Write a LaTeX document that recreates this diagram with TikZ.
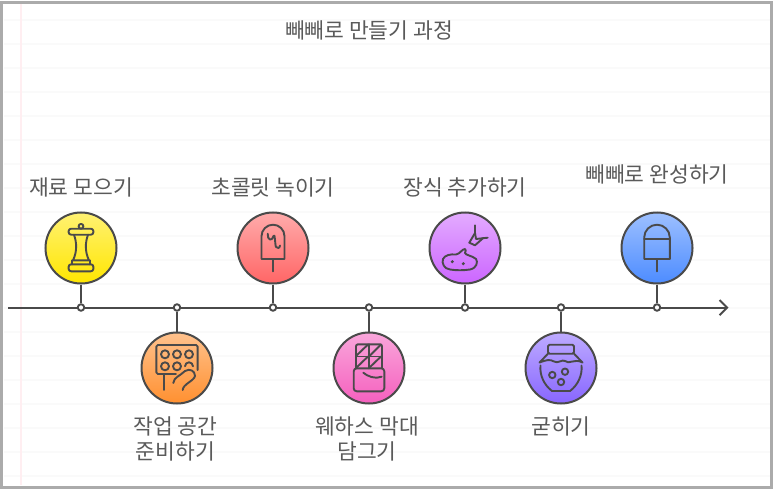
\documentclass[tikz,border=0pt]{standalone}
\usepackage{fontspec}
\setmainfont{Noto Sans CJK KR}
\usetikzlibrary{arrows.meta}
\definecolor{ink}{HTML}{4A4A4A}
\definecolor{txt}{HTML}{5A5A5A}
\definecolor{frame}{HTML}{ABABAB}
\definecolor{rule}{HTML}{FAFAFA}
\definecolor{margin}{HTML}{FFEEF1}
\tikzset{
  bub/.style={circle,draw=ink,line width=2pt,minimum size=71pt,inner sep=0pt,top color=#1!55!white,bottom color=#1},
  dotm/.style={circle,draw=ink,fill=white,line width=1.9pt,minimum size=6.5pt,inner sep=0pt},
  conn/.style={draw=ink,line width=2.2pt},
  lab/.style={text=txt,font=\fontsize{21.5}{25}\selectfont,align=center,inner sep=0pt},
  ico/.style={draw=ink,line width=1.9pt,line join=round,line cap=round},
}
\begin{document}
\begin{tikzpicture}[x=1pt,y=-1pt]
\useasboundingbox (0,0) rectangle (775,489);
\fill[white] (0,0) rectangle (775,489);
\foreach \y in {20,44,...,476} \draw[rule,line width=1.5pt] (4,\y) -- (770,\y);
\draw[margin,line width=1.3pt] (21,4) -- (21,485);
\draw[frame,line width=3pt] (1.5,2.2) rectangle (771.5,487);
\coordinate (as) at (8,307.6);
\coordinate (ae) at (728.5,307.6);
\draw[ink,line width=2pt,-{Straight Barb[length=7.5pt,width=15pt,line width=2pt]}] (as) -- (ae);
\foreach \n/\x/\y/\c in {1/81/248/FFE600,2/177/368/FF9030,3/273/248/FF6666,4/369/368/F55FBE,5/465/248/CC66FF,6/561/368/8866FF,7/657/248/4D8CFF}{
  \definecolor{cc}{HTML}{\c}
  \node[bub=cc] (c\n) at (\x,\y) {};
  \node[dotm] (d\n) at (\x,307.5) {};
  \draw[conn] (c\n) -- (d\n);
}
% labels
\node[lab] (t0) at (369,30) {빼빼로 만들기 과정};
\node[lab] (t1) at (81,187) {재료 모으기};
\node[lab] (t2) at (175.5,438.5) {작업 공간\\준비하기};
\node[lab] (t3) at (273,187) {초콜릿 녹이기};
\node[lab] (t4) at (367,438.5) {웨하스 막대\\담그기};
\node[lab] (t5) at (465,187) {장식 추가하기};
\node[lab] (t6) at (561,426) {굳히기};
\node[lab] (t7) at (657,174) {빼빼로 완성하기};
% icon 1: pepper mill
\begin{scope}[shift={(c1.center)}]
\draw[ico] (0,-21.7) circle (2.4);
\draw[ico,rounded corners=2.5pt] (-12.4,-19.3) rectangle (12.4,-13.3);
\draw[ico] (-7,-13.3) .. controls (-4,-5) and (-4,4) .. (-8,12.3) -- (8,12.3) .. controls (4,4) and (4,-5) .. (7,-13.3);
\draw[ico] (-8.8,12.3) -- (-8.8,16.3) (8.8,12.3) -- (8.8,16.3);
\draw[ico,rounded corners=2.5pt] (-12.4,16.3) rectangle (12.4,23.3);
\end{scope}
% icon 2: tray and hand
\begin{scope}[shift={(c2.center)}]
\draw[ico,rounded corners=1.5pt] (20.6,2) -- (20.6,-23) -- (-20.6,-23) -- (-20.6,6) -- (-1,6);
\foreach \a in {-12,0,12} \draw[ico] (\a,-13.7) circle (4);
\foreach \a in {-12,0} \draw[ico] (\a,-1.7) circle (4);
\draw[ico] (8,-1.7) arc (180:360:4);
\draw[ico] (-13.3,6) -- (-13.3,22);
\draw[ico] (-3.7,15) .. controls (-3,9) and (3,8) .. (8,3) .. controls (13,0) and (18,3) .. (18,8) .. controls (17,13) and (6,16) .. (5.7,22);
\end{scope}
% icon 3: popsicle with squiggle
\begin{scope}[shift={(c3.center)}]
\draw[ico] (-11.5,11) -- (-11.5,-11.8) arc (180:360:11.5) -- (11.5,11) -- cycle;
\draw[ico] (0,11) -- (0,23.3);
\draw[ico] (-5.3,-14.3) .. controls (-5.8,-8) and (-1,-6) .. (0.5,-12) .. controls (2,-16) and (2,-3) .. (3,-1) .. controls (4,0.5) and (7,0.5) .. (7,-2.5);
\end{scope}
% icon 4: chocolate bar
\begin{scope}[shift={(c4.center)}]
\draw[ico,rounded corners=2pt] (-13,0.3) -- (-13,-23.7) -- (13,-23.7) -- (13,0.3);
\draw[ico] (-13,-11.5) -- (13,-11.5) (0,-23.7) -- (0,0.3);
\draw[ico] (-13,-12) -- (-1,-23.5) (0,-11.5) -- (12,-23.5) (-13,0) -- (-1,-11.5) (0,0) -- (12,-11.5);
\draw[ico,rounded corners=3pt] (-15.3,0.3) rectangle (15.3,23.3);
\draw[ico] (-5.7,4.7) .. controls (-2,8) and (6,11.5) .. (12.7,8.7);
\end{scope}
% icon 5: icing
\begin{scope}[shift={(c5.center)}]
\draw[ico] (-15,21.5) .. controls (-21,21) and (-23.5,15) .. (-22,11) .. controls (-20,7) and (-15,6) .. (-9,6.5) .. controls (-5,6) and (-3,1) .. (0,1) .. controls (1,2) and (1,3) .. (0,5) .. controls (0,7) and (8,8) .. (11,11) .. controls (13,14) and (12,20) .. (5,21.5) .. controls (-2,22.5) and (-9,22.5) .. (-15,21.5) -- cycle;
\fill[ink] (-12.7,13.7) circle (1.7) (-1.7,15.7) circle (1.7);
\draw[ico] (10,-22.7) -- (10,-15) -- (4.3,-5.3) -- (10,-2.7) -- (18,-9.8) -- (22.7,-10.3);
\draw[ico] (10,-15) -- (11,-9) -- (18,-9.8);
\end{scope}
% icon 6: jar
\begin{scope}[shift={(c6.center)}]
\draw[ico,rounded corners=1.5pt] (-13,-14.3) -- (-13,-23.3) -- (13,-23.3) -- (13,-14.3) -- cycle;
\draw[ico] (-13,-14.3) -- (-21.5,-5.5) .. controls (-15,-8) and (-11,-9) .. (-7,-6.5) .. controls (-3,-4) and (1,-9) .. (4,-7) .. controls (8,-3) and (13,-10) .. (21.5,-5.5) -- (13,-14.3);
\draw[ico] (-20.5,-2.5) .. controls (-21.5,7) and (-17,17) .. (-9,23) -- (9,23) .. controls (17,17) and (21.5,7) .. (20.5,-2.5);
\draw[ico] (-8.7,7) circle (3.2) (4,3.7) circle (3.2) (0,14) circle (3.2);
\end{scope}
% icon 7: finished stick
\begin{scope}[shift={(c7.center)}]
\draw[ico] (-12.8,11) -- (-12.8,-10.5) arc (180:360:12.8) -- (12.8,11) -- cycle;
\draw[ico] (-12.8,-9.3) -- (12.8,-9.3);
\draw[ico] (0,11) -- (0,23.3);
\end{scope}
\end{tikzpicture}
\end{document}
